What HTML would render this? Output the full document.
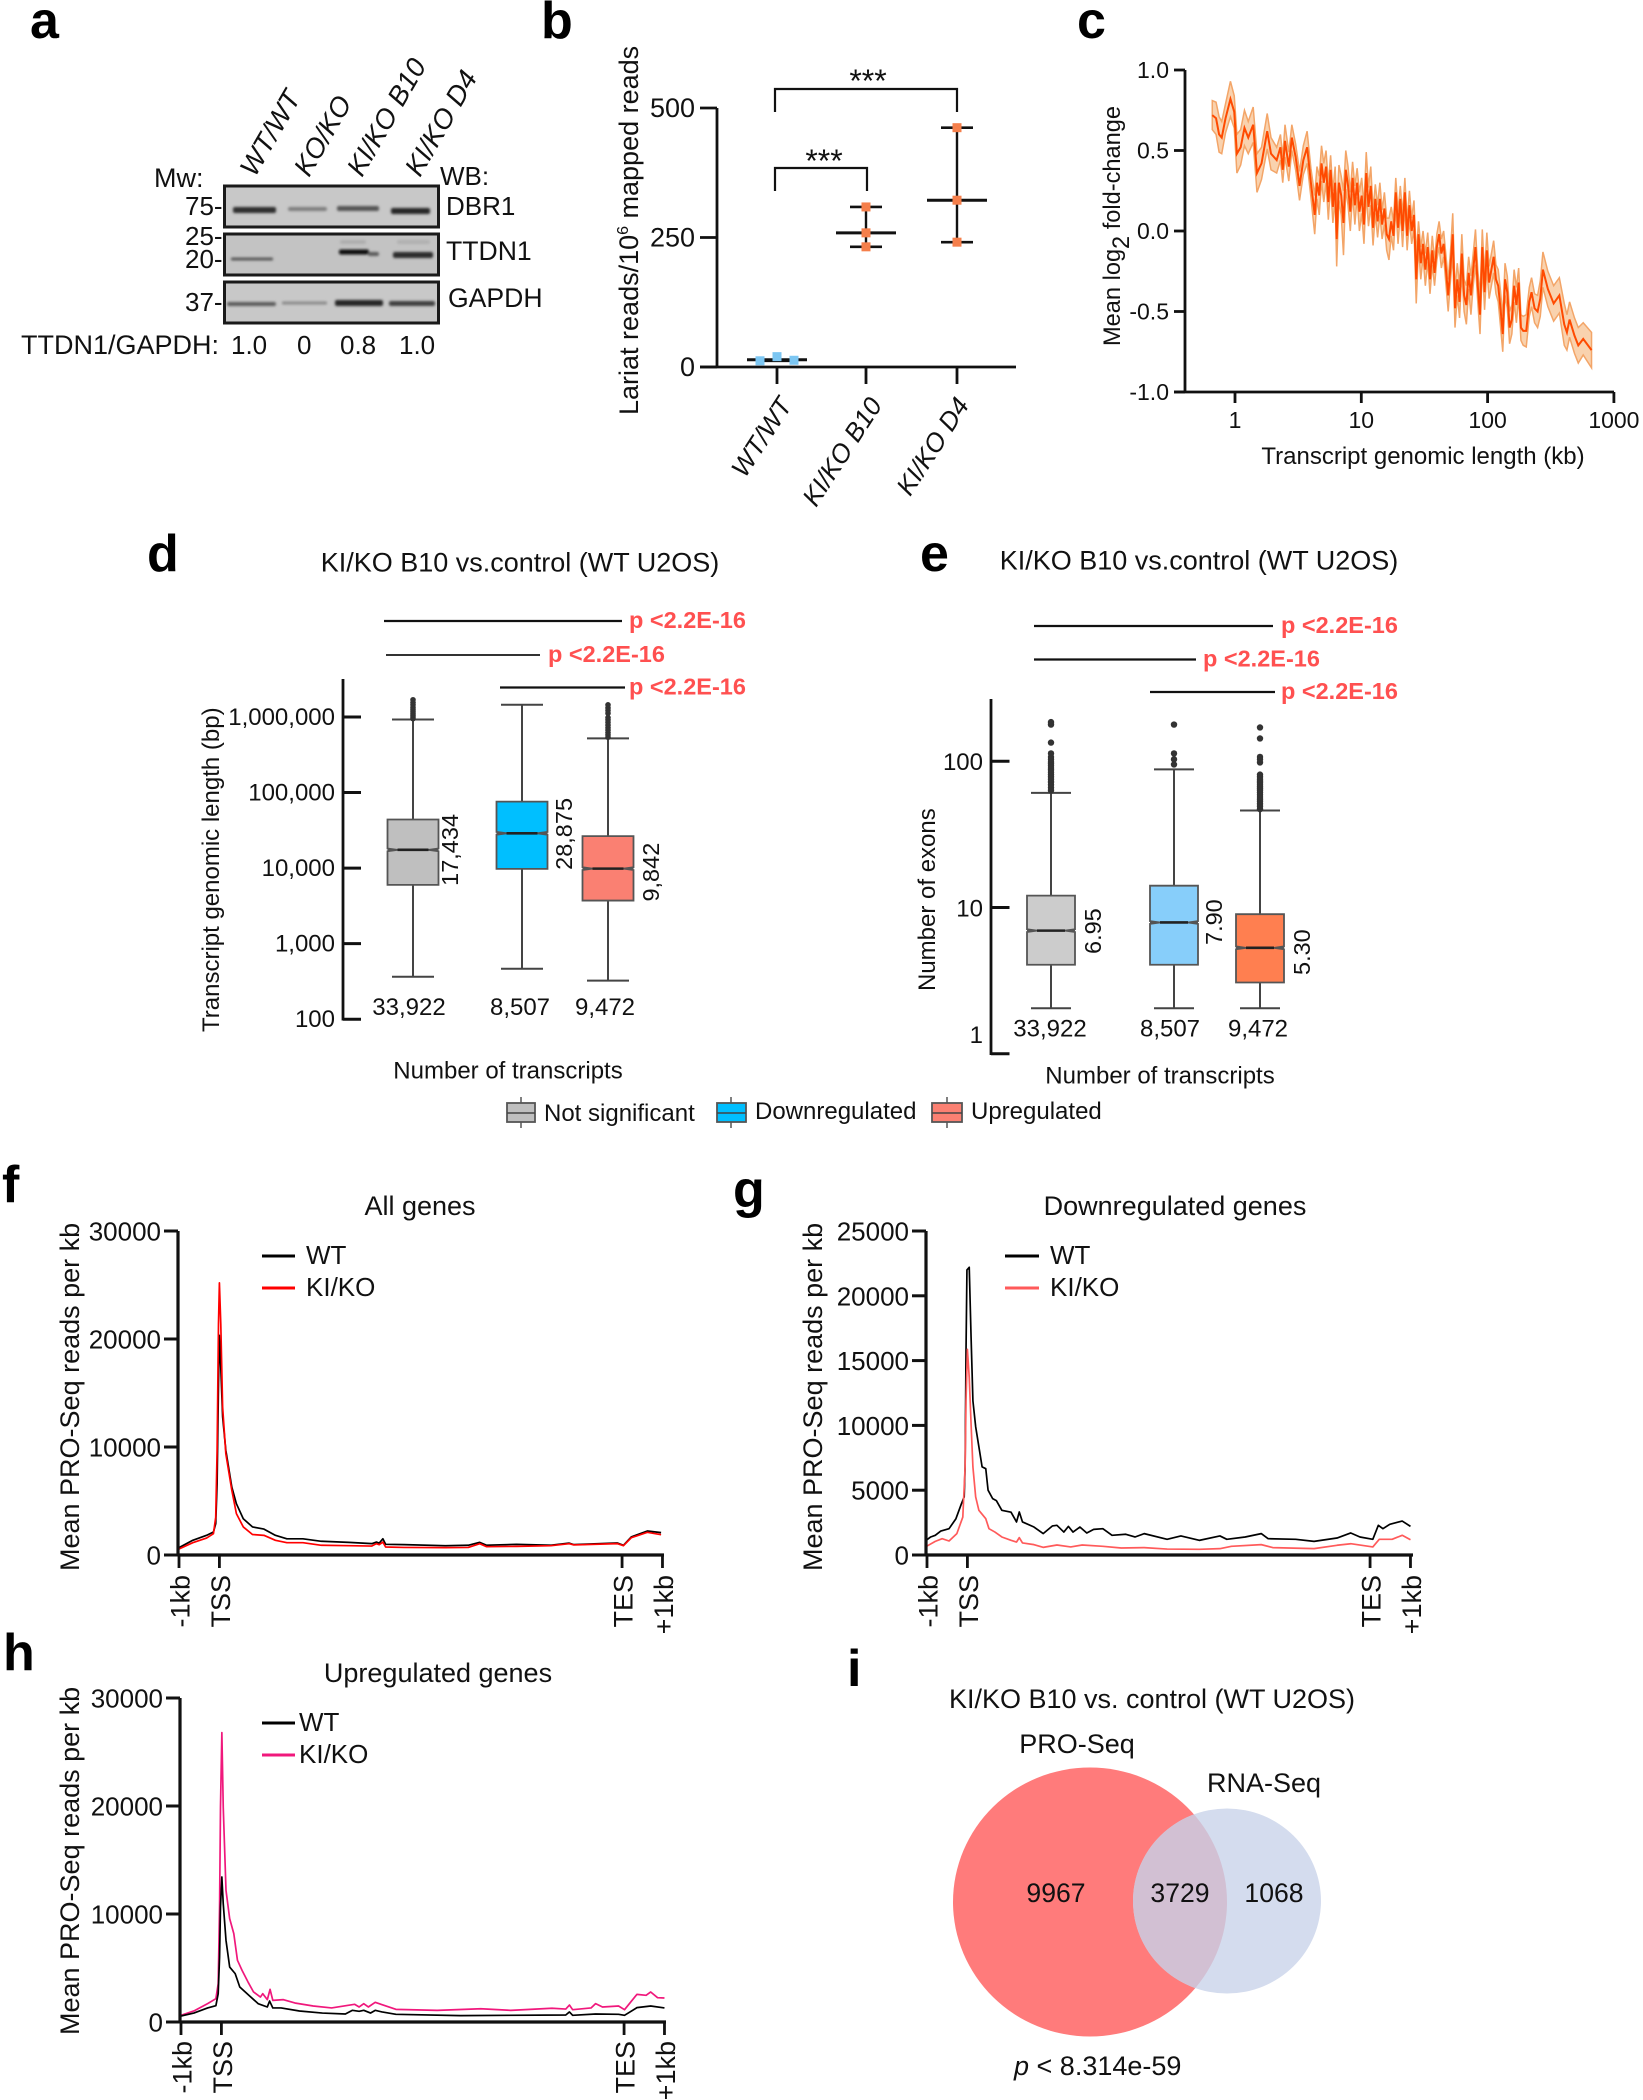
<!DOCTYPE html>
<html lang="en">
<head>
<meta charset="utf-8">
<title>Lariat and PRO-Seq figure</title>
<style>
html,body{margin:0;padding:0;background:#fff;}
svg{display:block;font-family:"Liberation Sans",Arial,sans-serif;fill:#111;}
.letter{font-weight:bold;font-size:52px;fill:#000;}
.t26{font-size:26px;}
.t24{font-size:24px;}
.t27{font-size:27px;}
.ital{font-style:italic;font-size:27.5px;}
.pval{font-weight:bold;font-size:23.5px;fill:#ff5050;}
</style>
</head>
<body>
<svg id="figure" xmlns="http://www.w3.org/2000/svg" width="1643" height="2100" viewBox="0 0 1643 2100">
<defs>
<filter id="blur-band" x="-20%" y="-100%" width="140%" height="300%"><feGaussianBlur stdDeviation="1.3"/></filter>
<clipPath id="venn-clip-large"><ellipse cx="1090" cy="1902" rx="137" ry="134.5"/></clipPath>
</defs>

<!-- panel letters -->
<text class="letter" x="30" y="38">a</text>
<text class="letter" x="541" y="38">b</text>
<text class="letter" x="1077" y="38">c</text>
<text class="letter" x="147" y="571">d</text>
<text class="letter" x="920" y="571">e</text>
<text class="letter" x="2" y="1202">f</text>
<text class="letter" x="733" y="1207">g</text>
<text class="letter" x="3" y="1670">h</text>
<text class="letter" x="847" y="1686">i</text>

<!-- panel a western blot -->
<g id="panel-a">
<text class="ital" transform="translate(255,178) rotate(-60)">WT/WT</text>
<text class="ital" transform="translate(309,178) rotate(-60)">KO/KO</text>
<text class="ital" transform="translate(362,178) rotate(-60)">KI/KO B10</text>
<text class="ital" transform="translate(420,178) rotate(-60)">KI/KO D4</text>
<text class="t27" x="154" y="187">Mw:</text>
<text class="t26" x="440" y="185">WB:</text>
<rect x="224.5" y="186" width="214" height="41" fill="#c8c8c8" stroke="#1a1a1a" stroke-width="3"/>
<rect x="224.5" y="234" width="214" height="41" fill="#c3c3c3" stroke="#1a1a1a" stroke-width="3"/>
<rect x="224.5" y="282" width="214" height="41" fill="#c8c8c8" stroke="#1a1a1a" stroke-width="3"/>
<g filter="url(#blur-band)">
<rect x="233" y="207" width="43" height="6" rx="2" fill="#2e2e2e"/>
<rect x="288" y="207" width="39" height="4" rx="2" fill="#7e7e7e"/>
<rect x="337" y="206" width="42" height="5" rx="2" fill="#555"/>
<rect x="391" y="208" width="39" height="6" rx="2" fill="#262626"/>
<rect x="231" y="257.5" width="42" height="3" rx="1" fill="#585858"/>
<rect x="339" y="249.5" width="30" height="5" rx="2" fill="#0a0a0a"/>
<rect x="368" y="252" width="11" height="4" rx="2" fill="#5a5a5a"/>
<rect x="393" y="252" width="40" height="6" rx="2" fill="#2a2a2a"/>
<rect x="340" y="240" width="26" height="4" rx="2" fill="#adadad"/>
<rect x="397" y="240" width="33" height="4" rx="2" fill="#b0b0b0"/>
<rect x="227" y="302" width="49" height="4" rx="2" fill="#5c5c5c"/>
<rect x="282" y="301.5" width="45" height="3" rx="1" fill="#8a8a8a"/>
<rect x="335" y="300" width="48" height="6" rx="2" fill="#262626"/>
<rect x="389" y="301" width="46" height="5" rx="2" fill="#404040"/>
</g>
<text class="t26" x="185" y="215">75-</text>
<text class="t26" x="185" y="245">25-</text>
<text class="t26" x="185" y="268">20-</text>
<text class="t26" x="185" y="311">37-</text>
<text class="t26" x="446" y="215">DBR1</text>
<text x="446" y="260" font-size="26.6">TTDN1</text>
<text x="448" y="307" font-size="26.6">GAPDH</text>
<text class="t27" x="21" y="354">TTDN1/GAPDH:</text>
<text class="t26" x="231" y="354">1.0</text>
<text class="t26" x="297" y="354">0</text>
<text class="t26" x="340" y="354">0.8</text>
<text class="t26" x="399" y="354">1.0</text>
</g>

<!-- panel b static -->
<g id="panel-b">
<text class="t27" transform="translate(638,415) rotate(-90)">Lariat reads/10<tspan font-size="16" dy="-10">6</tspan><tspan dy="10"> mapped reads</tspan></text>
<path d="M775 112V89H957V112" fill="none" stroke="#111" stroke-width="2.2"/>
<path d="M775 191V168H867V191" fill="none" stroke="#111" stroke-width="2.2"/>
<text x="868" y="92" font-size="32" text-anchor="middle">***</text>
<text x="824" y="172" font-size="32" text-anchor="middle">***</text>
</g>

<!-- panel c static -->
<g id="panel-c">
<text font-size="23.6" transform="translate(1120,346) rotate(-90)">Mean log<tspan dy="9">2</tspan><tspan dy="-9"> fold-change</tspan></text>
<text class="t24" x="1423" y="464" text-anchor="middle">Transcript genomic length (kb)</text>
</g>

<!-- panel d static -->
<g id="panel-d">
<text class="t27" x="520" y="571.5" text-anchor="middle">KI/KO B10 vs.control (WT U2OS)</text>
<line x1="384" x2="622" y1="621" y2="621" stroke="#111" stroke-width="2.2"/>
<text class="pval" x="629" y="628">p &lt;2.2E-16</text>
<line x1="386" x2="540" y1="655" y2="655" stroke="#333" stroke-width="2"/>
<text class="pval" x="548" y="662">p &lt;2.2E-16</text>
<line x1="500" x2="625" y1="687.5" y2="687.5" stroke="#111" stroke-width="2.2"/>
<text class="pval" x="629" y="694.5">p &lt;2.2E-16</text>
<text class="t24" transform="translate(219,1032) rotate(-90)">Transcript genomic length (bp)</text>
<text class="t24" x="508" y="1078.5" text-anchor="middle">Number of transcripts</text>
</g>

<!-- panel e static -->
<g id="panel-e">
<text class="t27" x="1199" y="569.5" text-anchor="middle">KI/KO B10 vs.control (WT U2OS)</text>
<line x1="1034" x2="1273" y1="626" y2="626" stroke="#111" stroke-width="2.2"/>
<text class="pval" x="1281" y="633">p &lt;2.2E-16</text>
<line x1="1034" x2="1196" y1="659.5" y2="659.5" stroke="#111" stroke-width="2.2"/>
<text class="pval" x="1203" y="666.5">p &lt;2.2E-16</text>
<line x1="1150" x2="1275" y1="692" y2="692" stroke="#111" stroke-width="2.2"/>
<text class="pval" x="1281" y="699">p &lt;2.2E-16</text>
<text class="t24" transform="translate(935,991) rotate(-90)">Number of exons</text>
<text class="t24" x="1160" y="1083.5" text-anchor="middle">Number of transcripts</text>
</g>

<!-- box legend -->
<g id="box-legend">
<line x1="521" x2="521" y1="1097" y2="1128" stroke="#555" stroke-width="1.5"/>
<rect x="507" y="1103" width="28" height="19" fill="#bfbfbf" stroke="#555" stroke-width="1.8"/>
<line x1="507" x2="535" y1="1113" y2="1113" stroke="#444" stroke-width="1.6"/>
<text class="t24" x="544" y="1121">Not significant</text>
<line x1="731" x2="731" y1="1097" y2="1128" stroke="#555" stroke-width="1.5"/>
<rect x="717" y="1103" width="29" height="19" fill="#00bfff" stroke="#555" stroke-width="1.8"/>
<line x1="717" x2="746" y1="1113" y2="1113" stroke="#444" stroke-width="1.6"/>
<text class="t24" x="755" y="1119">Downregulated</text>
<line x1="947" x2="947" y1="1097" y2="1128" stroke="#555" stroke-width="1.5"/>
<rect x="932" y="1103" width="30" height="19" fill="#fa8072" stroke="#555" stroke-width="1.8"/>
<line x1="932" x2="962" y1="1113" y2="1113" stroke="#444" stroke-width="1.6"/>
<text class="t24" x="971" y="1119">Upregulated</text>
</g>

<!-- metagene static -->
<g id="panel-f">
<text class="t27" x="420" y="1215" text-anchor="middle">All genes</text>
<text class="t27" transform="translate(79,1571) rotate(-90)">Mean PRO-Seq reads per kb</text>
<line x1="262" x2="295" y1="1256" y2="1256" stroke="#000" stroke-width="3"/>
<text class="t26" x="306" y="1264">WT</text>
<line x1="262" x2="295" y1="1288" y2="1288" stroke="#f00" stroke-width="3"/>
<text class="t26" x="306" y="1296">KI/KO</text>
</g>
<g id="panel-g">
<text class="t27" x="1175" y="1215" text-anchor="middle">Downregulated genes</text>
<text class="t27" transform="translate(822,1571) rotate(-90)">Mean PRO-Seq reads per kb</text>
<line x1="1005" x2="1039" y1="1256" y2="1256" stroke="#000" stroke-width="3"/>
<text class="t26" x="1050" y="1264">WT</text>
<line x1="1005" x2="1039" y1="1288" y2="1288" stroke="#ff5a5a" stroke-width="3"/>
<text class="t26" x="1050" y="1296">KI/KO</text>
</g>
<g id="panel-h">
<text class="t27" x="438" y="1682" text-anchor="middle">Upregulated genes</text>
<text class="t27" transform="translate(79,2035) rotate(-90)">Mean PRO-Seq reads per kb</text>
<line x1="262" x2="295" y1="1723" y2="1723" stroke="#000" stroke-width="3"/>
<text class="t26" x="299" y="1731">WT</text>
<line x1="262" x2="295" y1="1755" y2="1755" stroke="#f0187c" stroke-width="3"/>
<text class="t26" x="299" y="1763">KI/KO</text>
</g>

<!-- panel i venn -->
<g id="panel-i">
<text class="t27" x="1152" y="1708" text-anchor="middle">KI/KO B10 vs. control (WT U2OS)</text>
<text class="t27" x="1077" y="1753" text-anchor="middle">PRO-Seq</text>
<text class="t27" x="1264" y="1792" text-anchor="middle">RNA-Seq</text>
<ellipse cx="1090" cy="1902" rx="137" ry="134.5" fill="#ff7b7b"/>
<ellipse cx="1227" cy="1901" rx="94" ry="92.5" fill="#d4dcee"/>
<ellipse cx="1227" cy="1901" rx="94" ry="92.5" fill="#d2c0d3" clip-path="url(#venn-clip-large)"/>
<text x="1056" y="1902" text-anchor="middle" font-size="26.6">9967</text>
<text x="1180" y="1902" text-anchor="middle" font-size="26.6">3729</text>
<text x="1274" y="1902" text-anchor="middle" font-size="26.6">1068</text>
<text class="t27" x="1014" y="2075"><tspan font-style="italic">p</tspan> &lt; 8.314e-59</text>
</g>

<script>
/* ---------- panel b data ---------- */
var bCategories = ['WT/WT', 'KI/KO B10', 'KI/KO D4'];
var bReplicateA = [12, 232, 241];
var bReplicateB = [20, 259, 322];
var bReplicateC = [13, 309, 462];
var bCentre = [14, 259, 322];
var bTicks = [0, 250, 500];

/* ---------- panel c data ---------- */
var cLog10Kb = [-0.18,-0.15,-0.126,-0.105,-0.075,-0.036,-0.006,0.015,0.045,0.075,0.105,0.144,0.174,0.21,0.255,0.285,0.33,0.36,0.378,0.396,0.426,0.45,0.48,0.511,0.541,0.571,0.601,
0.631,0.649,0.667,0.685,0.703,0.721,0.739,0.757,0.775,0.793,0.805,0.823,0.841,0.859,0.877,0.895,0.913,0.931,0.949,0.967,0.985,1.003,1.021,1.039,1.057,1.075,1.093,1.111,1.129,1.147,1.165,1.183,1.201,1.219,1.237,1.255,1.273,1.291,1.309,1.327,1.345,1.363,1.381,1.399,1.417,1.435,1.453,1.471,1.489,1.507,1.526,1.544,1.562,1.58,1.598,1.616,1.634,1.652,1.67,1.688,1.706,1.724,1.742,1.76,1.778,1.796,1.814,1.832,1.85,1.868,1.886,1.904,1.922,1.94,1.958,1.976,1.994,2.012,2.03,2.048,2.066,2.084,2.102,2.12,2.138,2.156,2.174,2.192,2.21,2.228,2.246,2.264,2.282,2.306,2.33,2.348,2.372,2.396,2.417,2.438,2.477,2.523,2.568,2.607,2.628,2.649,2.688,2.718,2.757,2.823];
var cMean = [0.72,0.70,0.60,0.58,0.70,0.82,0.74,0.48,0.52,0.64,0.58,0.66,0.36,0.42,0.62,0.48,0.44,0.52,0.38,0.56,0.40,0.58,0.46,0.28,0.44,0.52,0.30,
0.10,0.30,0.22,0.42,0.30,0.40,0.18,0.38,0.15,0.30,-0.05,0.30,0.22,0.05,0.38,0.28,0.12,0.33,0.16,0.30,0.12,0.22,0.04,0.36,0.15,0.28,0.02,0.20,0.06,0.20,0.04,0.14,-0.02,-0.05,0.06,-0.03,0.24,0.02,0.20,0.00,0.24,-0.03,0.16,0.00,0.10,-0.30,-0.02,-0.20,-0.08,-0.24,-0.10,-0.30,-0.12,-0.26,-0.10,-0.02,-0.14,-0.08,-0.24,-0.40,-0.22,-0.02,-0.48,-0.30,-0.44,-0.14,-0.40,-0.46,-0.26,-0.40,-0.24,-0.10,-0.34,-0.52,-0.10,-0.38,-0.12,-0.32,-0.24,-0.16,-0.30,-0.34,-0.48,-0.64,-0.30,-0.38,-0.60,-0.55,-0.34,-0.46,-0.32,-0.60,-0.62,-0.62,-0.44,-0.38,-0.48,-0.50,-0.42,-0.24,-0.36,-0.45,-0.40,-0.58,-0.63,-0.55,-0.65,-0.71,-0.67,-0.74];
var cError = [0.09,0.10,0.11,0.10,0.09,0.11,0.10,0.12,0.11,0.11,0.10,0.11,0.12,0.10,0.11,0.10,0.08,0.08,0.08,0.10,0.09,0.08,0.08,0.09,0.09,0.10,0.09,
0.12,0.10,0.12,0.11,0.12,0.10,0.11,0.09,0.10,0.10,0.17,0.11,0.12,0.20,0.12,0.12,0.12,0.10,0.12,0.09,0.12,0.11,0.12,0.13,0.12,0.12,0.11,0.09,0.10,0.10,0.09,0.10,0.10,0.13,0.09,0.09,0.09,0.10,0.08,0.10,0.09,0.09,0.09,0.08,0.09,0.15,0.08,0.10,0.08,0.10,0.09,0.09,0.09,0.08,0.08,0.08,0.09,0.08,0.09,0.10,0.09,0.13,0.12,0.10,0.10,0.12,0.10,0.12,0.10,0.12,0.10,0.11,0.10,0.12,0.11,0.11,0.11,0.10,0.10,0.10,0.09,0.10,0.11,0.11,0.10,0.10,0.10,0.09,0.10,0.11,0.09,0.08,0.09,0.10,0.09,0.09,0.09,0.10,0.11,0.11,0.11,0.11,0.11,0.13,0.11,0.11,0.11,0.11,0.10,0.11];
var cYTicks = [1, 0.5, 0, -0.5, -1];
var cYTickLabels = ['1.0', '0.5', '0.0', '-0.5', '-1.0'];
var cXTicks = [1, 10, 100, 1000];

/* ---------- panel d data ---------- */
var dCategories = ['not-significant', 'downregulated', 'upregulated'];
var dQ1 = [6000, 9770, 3720];
var dMedian = [17434, 28875, 9842];
var dQ3 = [44000, 75800, 26500];
var dWhiskerLow = [365, 465, 324];
var dWhiskerHigh = [925000, 1450000, 521000];
var dOutliersNs = [950000, 1000000, 1060000, 1120000, 1190000, 1260000, 1340000, 1450000, 1550000, 1690000];
var dOutliersUp = [540000, 580000, 620000, 670000, 720000, 780000, 850000, 920000, 980000, 1120000, 1220000, 1320000, 1450000];
var dOutliersDown = [];
var dCounts = ['33,922', '8,507', '9,472'];
var dTicks = [100, 1000, 10000, 100000, 1000000];
var dTickLabels = ['100', '1,000', '10,000', '100,000', '1,000,000'];

/* ---------- panel e data ---------- */
var eQ1 = [4.06, 4.06, 3.07];
var eMedian = [6.95, 7.90, 5.30];
var eQ3 = [12.05, 14.1, 9.0];
var eWhiskerLow = [2.05, 2.05, 2.05];
var eWhiskerHigh = [60.8, 88, 46];
var eOutliersNs = [63, 66, 69, 72, 75, 78, 81, 84, 87, 90, 93, 96, 99, 103, 107, 113, 134, 178, 185];
var eOutliersDown = [95, 103, 113, 178];
var eOutliersUp = [47, 49, 51, 53, 55, 57, 59, 61, 63, 65, 67, 69, 71, 73, 75, 78, 81, 98, 103, 107, 143, 170];
var eCounts = ['33,922', '8,507', '9,472'];
var eTicks = [1, 10, 100];

/* ---------- metagene data ---------- */
var metaTickBins = [0, 88, 965, 1053];
var metaTickLabels = ['-1kb', 'TSS', 'TES', '+1kb'];

var fYTicks = [0, 10000, 20000, 30000];
var fBins = [0,30,60,75,80,83,86,88,91,95,102,115,125,140,160,185,210,235,270,310,370,420,430,436,444,450,490,580,630,655,670,735,810,850,860,955,968,985,1020,1050];
var fWt = [680,1360,1820,2130,2900,6600,15860,20340,17400,12800,9700,6300,4750,3360,2600,2400,1820,1500,1500,1270,1170,1050,1200,1100,1500,990,960,860,900,1170,900,990,900,1100,960,1110,900,1670,2220,2070];
var fKo = [555,1140,1570,1975,3500,9700,21400,25200,21400,13700,9380,6000,3830,2600,1900,1820,1360,1140,1140,900,860,830,1050,950,1200,740,700,680,700,1050,770,800,860,1050,930,1050,860,1600,2100,1880];

var gYTicks = [0, 5000, 10000, 15000, 20000, 25000];
var gWtBins = [0,8,18,30,48,63,75,81,83,85,87,92,96,100,106,113,120,128,133,143,151,163,183,195,201,208,233,253,273,283,298,308,318,333,348,363,383,403,433,453,473,523,553,593,638,653,693,728,743,803,843,893,923,943,971,983,993,1008,1035,1053];
var gWt = [1180,1390,1520,1850,2030,2800,3960,4480,6800,15800,22000,22200,16800,11900,9900,8350,6800,6660,5000,4350,4200,3450,3300,2550,3320,2550,2160,1650,2240,2290,1770,2210,1770,2160,1700,1980,2030,1520,1600,1390,1650,1210,1470,1130,1470,1210,1390,1650,1260,1210,1050,1310,1700,1390,1210,2290,2030,2370,2620,2210];
var gKoBins = [0,18,33,48,65,78,83,85,88,92,96,100,106,113,128,135,148,163,183,195,201,208,233,253,283,313,338,383,423,473,523,593,638,663,728,753,843,893,923,971,985,1013,1035,1053];
var gKo = [690,1050,1260,1080,1650,2930,6800,11900,15870,13700,10100,6800,4480,3450,2800,2030,1770,1390,1130,1000,1340,930,800,590,770,620,770,670,540,570,460,440,490,670,800,570,490,750,870,620,1210,1210,1520,1180];

var hYTicks = [0, 10000, 20000, 30000];
var hWtBins = [0,28,58,76,81,84,86,89,92,98,106,118,128,148,168,188,193,200,218,258,308,358,373,388,398,413,423,438,468,608,838,846,853,903,953,966,993,1023,1053];
var hWt = [555,830,1300,1510,2620,6000,10650,13430,10960,7560,5090,4480,3240,2470,1700,1390,1940,1300,1300,1020,830,740,1080,990,1080,830,1080,930,710,590,650,930,620,740,710,620,1330,1480,1300];
var hKoBins = [0,28,58,76,81,84,86,89,92,98,106,115,123,133,146,158,173,178,188,194,200,223,248,288,328,378,388,398,408,423,438,468,558,653,718,808,838,846,853,893,903,918,953,966,993,1013,1023,1038,1053];
var hKo = [620,1020,1700,2160,3550,10650,19900,26800,19900,12190,9570,8180,5710,4780,3700,2780,2310,2620,2070,3020,2000,2070,1760,1480,1300,1640,1390,1700,1390,1820,1600,1170,1080,1230,1080,1270,1200,1570,1140,1300,1700,1390,1480,1140,2560,2470,2780,2250,2220];

/* ---------- helpers ---------- */
var SVG_NS = 'http://www.w3.org/2000/svg';
function mk(parent, tag, attrs, text) {
  var e = document.createElementNS(SVG_NS, tag);
  for (var k in attrs) { e.setAttribute(k, attrs[k]); }
  if (text !== undefined) { e.textContent = text; }
  parent.appendChild(e);
  return e;
}
function pts(list) {
  return list.map(function (p) { return p[0].toFixed(2) + ',' + p[1].toFixed(2); }).join(' ');
}

/* ---------- panel b ---------- */
(function () {
  var g = document.getElementById('panel-b');
  function y(v) { return 367 - v * 0.518; }
  function x(i) { return [777, 866, 957][i]; }
  function labelX(i) { return [793, 883, 970][i]; }
  var a = mk(g, 'path', { d: 'M717 ' + (y(0) - 0) + 'V' + y(500) + 'M700 ' + y(0) + 'H1016', fill: 'none', stroke: '#111', 'stroke-width': 2.8 });
  
  
  bTicks.forEach(function (v) {
    var t = mk(g, 'line', { x1: 700, x2: 717, y1: y(v), y2: y(v), stroke: '#111', 'stroke-width': 2.8 });
    
    
    var l = mk(g, 'text', { x: 695, y: y(v) + 9, 'text-anchor': 'end', 'font-size': 27 }, String(v));
    
    
  });
  bCategories.forEach(function (c, i) {
    var t = mk(g, 'line', { x1: x(i), x2: x(i), y1: y(0), y2: 384, stroke: '#111', 'stroke-width': 2.8 });
    
    
    var l = mk(g, 'text', { transform: 'translate(' + labelX(i) + ',405) rotate(-57)', 'text-anchor': 'end', 'font-size': 26, 'font-style': 'italic' }, c);
    
    
    var low = bReplicateA[i], high = bReplicateC[i];
    var col = i === 0 ? '#7cc6f2' : '#f57f4b';
    var bar = mk(g, 'line', { x1: x(i), x2: x(i), y1: y(high), y2: y(low), stroke: '#111', 'stroke-width': 2.4 });
    
    
    [low, high].forEach(function (v) {
      var cap = mk(g, 'line', { x1: x(i) - 16, x2: x(i) + 16, y1: y(v), y2: y(v), stroke: '#111', 'stroke-width': 2.6 });
      
      
    });
    var med = mk(g, 'line', { x1: x(i) - 30, x2: x(i) + 30, y1: y(bCentre[i]), y2: y(bCentre[i]), stroke: '#111', 'stroke-width': 3 });
    
    
    [bReplicateA[i], bReplicateB[i], bReplicateC[i]].forEach(function (v, j) {
      var dx = i === 0 ? (j - 1) * 17 : 0;
      var p = mk(g, 'rect', { x: x(i) + dx - 4.5, y: y(v) - 4.5, width: 9, height: 9, fill: col });
      
      
    });
  });
})();

/* ---------- panel c ---------- */
(function () {
  var g = document.getElementById('panel-c');
  function x(l) { return 1235 + l * 126.3; }
  function y(v) { return 231 - v * 161; }
  var upper = [], lower = [], mean = [];
  cLog10Kb.forEach(function (l, i) {
    upper.push([x(l), y(cMean[i] + cError[i])]);
    lower.unshift([x(l), y(cMean[i] - cError[i])]);
    mean.push([x(l), y(cMean[i])]);
  });
  var band = mk(g, 'polygon', { points: pts(upper.concat(lower)), fill: '#f9d2ae', stroke: '#f3a568', 'stroke-width': 1.5 });
  
  
  var line = mk(g, 'polyline', { points: pts(mean), fill: 'none', stroke: '#ff4a00', 'stroke-width': 2 });
  
  
  var ax = mk(g, 'path', { d: 'M1185 70V392M1174 392H1614', fill: 'none', stroke: '#111', 'stroke-width': 2.8 });
  
  
  cYTicks.forEach(function (v, i) {
    var t = mk(g, 'line', { x1: 1174, x2: 1185, y1: y(v), y2: y(v), stroke: '#111', 'stroke-width': 2.8 });
    
    
    var l = mk(g, 'text', { x: 1169, y: y(v) + 8, 'text-anchor': 'end', 'font-size': 23 }, cYTickLabels[i]);
    
    
  });
  cXTicks.forEach(function (v) {
    var px = x(Math.log10(v));
    var t = mk(g, 'line', { x1: px, x2: px, y1: 392, y2: 403, stroke: '#111', 'stroke-width': 2.8 });
    
    
    var l = mk(g, 'text', { x: px, y: 428, 'text-anchor': 'middle', 'font-size': 23 }, String(v));
    
    
  });
})();

/* ---------- box plots ---------- */
function drawBox(g, cx, hw, y, q1, med, q3, lo, hi, outliers, fill, dotR, capHw) {
  var wh = mk(g, 'path', { d: 'M' + cx + ' ' + y(hi) + 'V' + y(q3) + 'M' + cx + ' ' + y(q1) + 'V' + y(lo) + 'M' + (cx - capHw) + ' ' + y(hi) + 'H' + (cx + capHw) + 'M' + (cx - capHw) + ' ' + y(lo) + 'H' + (cx + capHw), fill: 'none', stroke: '#444', 'stroke-width': 2 });
  
  
  outliers.forEach(function (v) {
    var d = mk(g, 'circle', { cx: cx, cy: y(v), r: dotR, fill: '#333' });
    
    
  });
  var l = cx - hw, r = cx + hw, m = y(med), inset = 10, ny = 1.4;
  var body = mk(g, 'polygon', { points: pts([[l, y(q3)], [r, y(q3)], [r, m - ny], [r - inset, m], [r, m + ny], [r, y(q1)], [l, y(q1)], [l, m + ny], [l + inset, m], [l, m - ny]]), fill: fill, stroke: '#555', 'stroke-width': 1.8 });
  
  
  var thin = mk(g, 'line', { x1: l, x2: r, y1: m, y2: m, stroke: '#555', 'stroke-width': 1.4 });
  
  
  var ml = mk(g, 'line', { x1: l + inset, x2: r - inset, y1: m, y2: m, stroke: '#222', 'stroke-width': 2.6 });
  
  
}

(function () {
  var g = document.getElementById('panel-d');
  function y(v) { return 1019.2 - (Math.log10(v) - 2) * 75.55; }
  function x(i) { return [413, 522, 608][i]; }
  var fills = ['#bfbfbf', '#00bfff', '#fa8072'];
  var outs = [dOutliersNs, dOutliersDown, dOutliersUp];
  var valueLabelX = [458, 572, 659];
  var nLabelX = [409, 520, 605];
  var ax = mk(g, 'line', { x1: 343, x2: 343, y1: 679, y2: 1020.5, stroke: '#111', 'stroke-width': 2.8 });
  
  
  dTicks.forEach(function (v, i) {
    var t = mk(g, 'line', { x1: 343, x2: 361, y1: y(v), y2: y(v), stroke: '#111', 'stroke-width': 3 });
    
    
    var l = mk(g, 'text', { x: 335, y: y(v) + 8, 'text-anchor': 'end', 'font-size': 24 }, dTickLabels[i]);
    
    
  });
  dCategories.forEach(function (c, i) {
    drawBox(g, x(i), 25.5, y, dQ1[i], dMedian[i], dQ3[i], dWhiskerLow[i], dWhiskerHigh[i], outs[i], fills[i], 2.8, 21);
    var v = mk(g, 'text', { transform: 'translate(' + valueLabelX[i] + ',' + (y(dQ1[i]) + 1) + ') rotate(-90)', 'font-size': 23.5 }, dMedian[i].toLocaleString('en-US'));
    
    
    var n = mk(g, 'text', { x: nLabelX[i], y: 1015, 'text-anchor': 'middle', 'font-size': 24 }, dCounts[i]);
    
    
  });
})();

(function () {
  var g = document.getElementById('panel-e');
  function y(v) { return 1053.8 - Math.log10(v) * 146.3; }
  function x(i) { return [1051, 1174, 1260][i]; }
  var fills = ['#cccccc', '#87cefa', '#ff7f50'];
  var outs = [eOutliersNs, eOutliersDown, eOutliersUp];
  var valueLabelX = [1101, 1222, 1310];
  var valueLabelY = [954, 945, 975];
  var nLabelX = [1050, 1170, 1258];
  var ax = mk(g, 'line', { x1: 991, x2: 991, y1: 699, y2: 1055, stroke: '#111', 'stroke-width': 2.8 });
  
  
  eTicks.forEach(function (v) {
    var t = mk(g, 'line', { x1: 991, x2: 1009.5, y1: y(v), y2: y(v), stroke: '#111', 'stroke-width': 3 });
    
    
    var l = mk(g, 'text', { x: 983, y: v === 1 ? 1043 : y(v) + 9, 'text-anchor': 'end', 'font-size': 24 }, String(v));
    
    
  });
  eMedian.forEach(function (m, i) {
    drawBox(g, x(i), 24, y, eQ1[i], m, eQ3[i], eWhiskerLow[i], eWhiskerHigh[i], outs[i], fills[i], 3.2, 20);
    var v = mk(g, 'text', { transform: 'translate(' + valueLabelX[i] + ',' + valueLabelY[i] + ') rotate(-90)', 'font-size': 23.5 }, m.toFixed(2));
    
    
    var n = mk(g, 'text', { x: nLabelX[i], y: 1036.5, 'text-anchor': 'middle', 'font-size': 24 }, eCounts[i]);
    
    
  });
})();

/* ---------- metagene panels ---------- */
function drawMeta(g, x0, xEnd, yTop, y0, yMax, ticks, series, labelTop) {
  function x(b) { return x0 + b / 2.178; }
  function y(v) { return y0 - v * (y0 - yTop) / yMax; }
  series.forEach(function (s) {
    var p = s.bins.map(function (b, i) { return [x(b), y(s.vals[i])]; });
    var l = mk(g, 'polyline', { points: pts(p), fill: 'none', stroke: s.color, 'stroke-width': 1.7, 'stroke-linejoin': 'round' });
    
    
  });
  var ax = mk(g, 'path', { d: 'M' + (x0 - 1) + ' ' + yTop + 'V' + y0 + 'M' + (x0 - 1) + ' ' + y0 + 'H' + xEnd, fill: 'none', stroke: '#111', 'stroke-width': 3.2 });
  
  
  ticks.forEach(function (v) {
    var t = mk(g, 'line', { x1: x0 - 15, x2: x0 - 1, y1: y(v), y2: y(v), stroke: '#111', 'stroke-width': 3 });
    
    
    var l = mk(g, 'text', { x: x0 - 18, y: y(v) + 9.5, 'text-anchor': 'end', 'font-size': 26 }, String(v));
    
    
  });
  metaTickBins.forEach(function (b, i) {
    var px = x(b);
    var t = mk(g, 'line', { x1: px, x2: px, y1: y0, y2: y0 + 13, stroke: '#111', 'stroke-width': 2.8 });
    
    
    var l = mk(g, 'text', { transform: 'translate(' + (px + 10.5) + ',' + labelTop + ') rotate(-90)', 'text-anchor': 'end', 'font-size': 27 }, metaTickLabels[i]);
    
    
  });
}
drawMeta(document.getElementById('panel-f'), 179, 664, 1231, 1555, 30000, fYTicks, [
  { bins: fBins, vals: fWt, color: '#000', name: 'wt-line' },
  { bins: fBins, vals: fKo, color: '#f00', name: 'kiko-line' }
], 1575);
drawMeta(document.getElementById('panel-g'), 927, 1413, 1231, 1555, 25000, gYTicks, [
  { bins: gWtBins, vals: gWt, color: '#000', name: 'wt-line' },
  { bins: gKoBins, vals: gKo, color: '#ff5a5a', name: 'kiko-line' }
], 1575);
drawMeta(document.getElementById('panel-h'), 181, 666, 1698, 2022, 30000, hYTicks, [
  { bins: hKoBins, vals: hKo, color: '#f0187c', name: 'kiko-line' },
  { bins: hWtBins, vals: hWt, color: '#000', name: 'wt-line' }
], 2041);
</script>
</svg>
</body>
</html>
